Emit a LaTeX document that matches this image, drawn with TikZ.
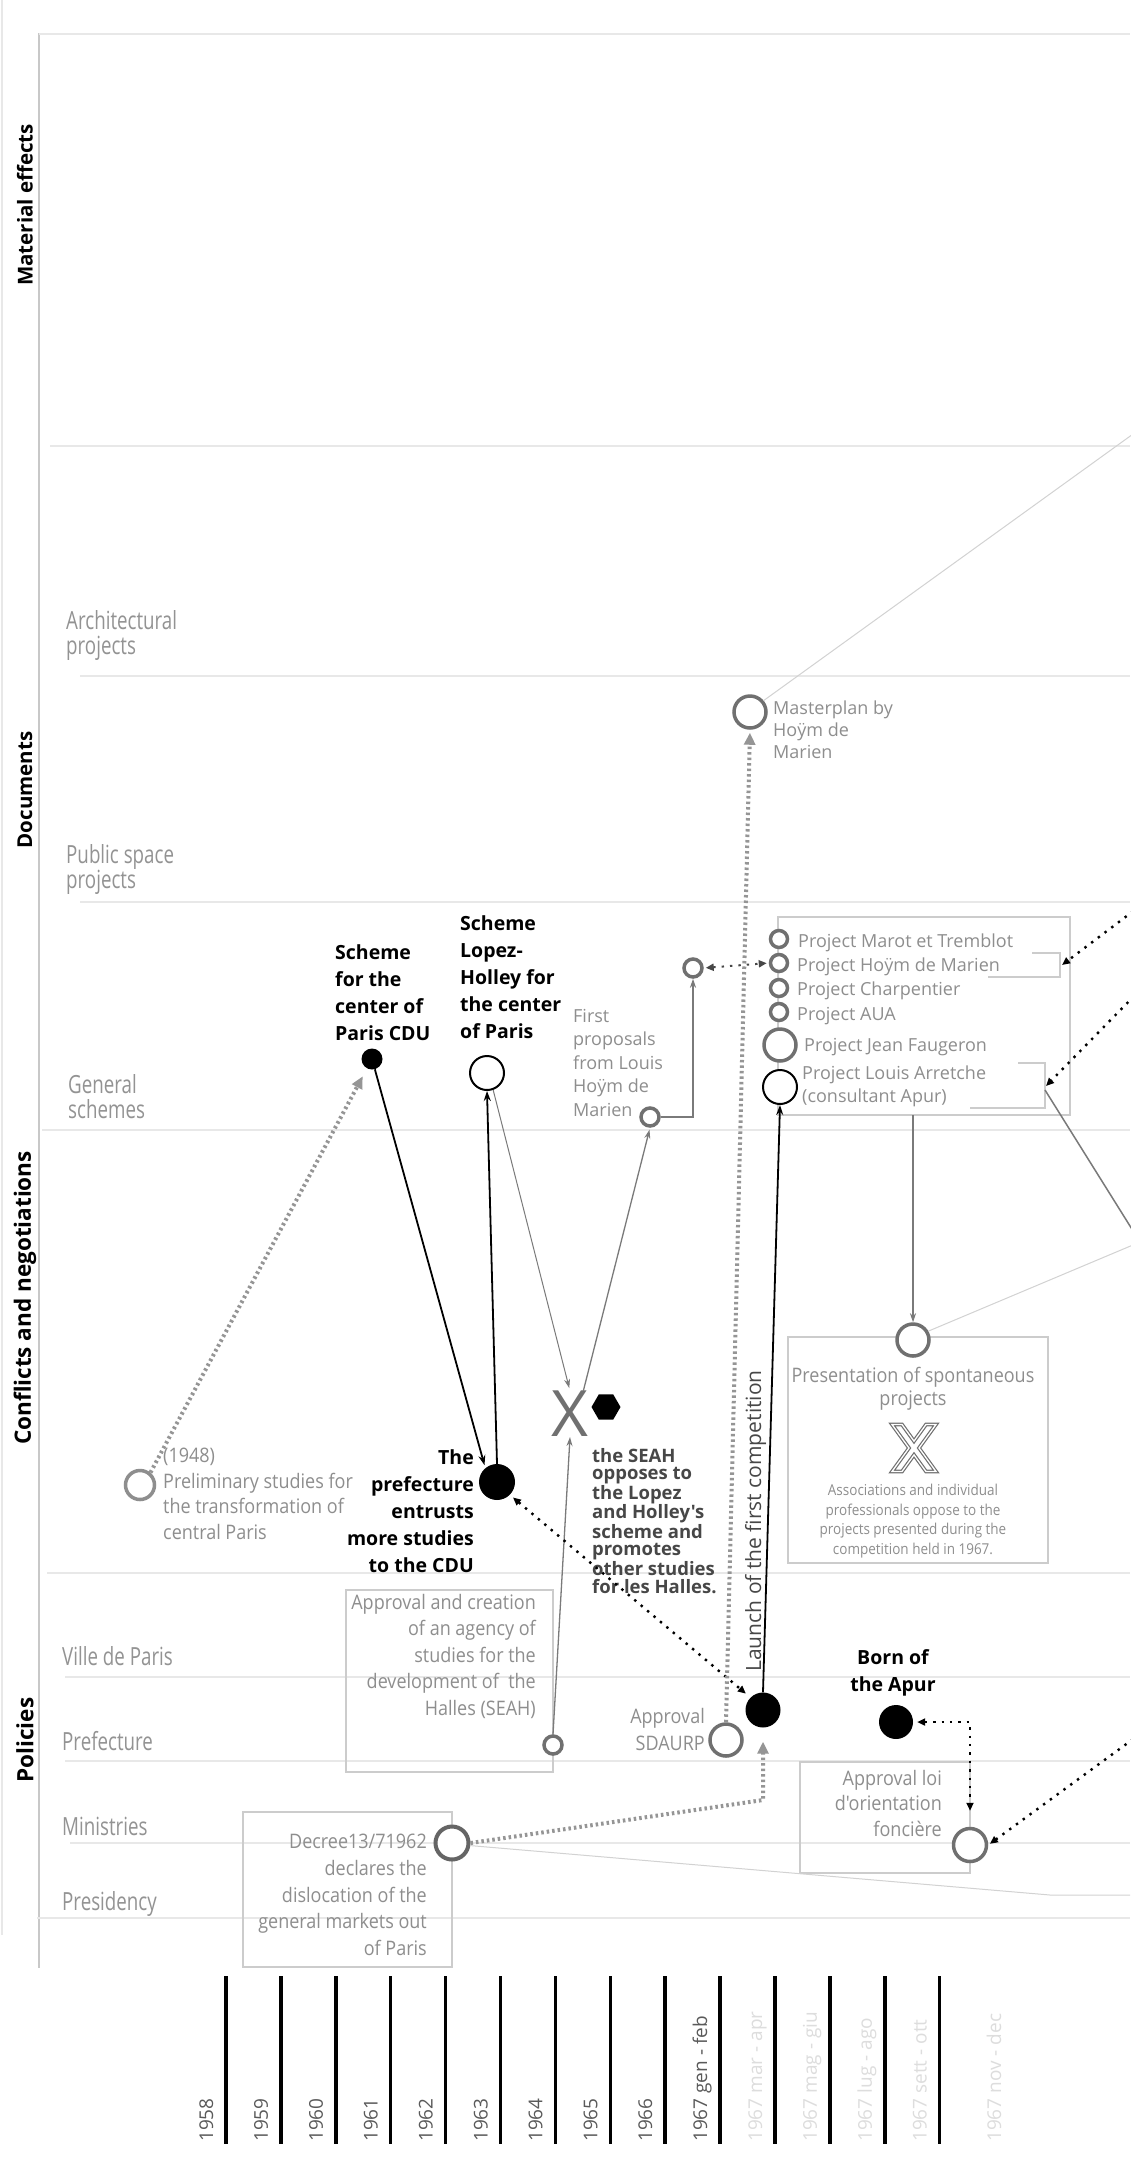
\documentclass[tikz,border=0pt]{standalone}
\usepackage{fontspec}
\setmainfont{Open Sans}
\newfontfamily\osans{Open Sans}
\newfontfamily\ocond[FakeStretch=0.9]{Open Sans}
\newfontfamily\orow[FakeStretch=0.75]{Open Sans}
\usetikzlibrary{arrows.meta,shapes.geometric}
\newcommand\myfs[2]{\fontsize{#1}{#2}\selectfont}
\definecolor{gridc}{HTML}{E8E8E8}
\definecolor{txtc}{HTML}{8E8E8E}
\definecolor{rowc}{HTML}{939393}
\definecolor{circc}{HTML}{707070}
\definecolor{boxc}{HTML}{CCCCCC}
\definecolor{thinc}{HTML}{7A7A7A}
\definecolor{dotg}{HTML}{959595}
\definecolor{darkt}{HTML}{474747}
\definecolor{yrc}{HTML}{5A5A5A}
\definecolor{yrl}{HTML}{DDDDDD}
\definecolor{lightl}{HTML}{D2D2D2}
\definecolor{axisc}{HTML}{C8C8C8}
\begin{document}
\begin{tikzpicture}[x=1pt,y=-1pt,
  gridl/.style={draw=gridc, line width=2pt},
  rowlab/.style={font=\orow\myfs{25}{25}, text=rowc, inner sep=0pt, align=left},
  cattxt/.style={font=\osans\bfseries\myfs{20.5}{22}, rotate=90, inner sep=0pt},
  boldlab/.style={font=\osans\bfseries\myfs{19.5}{27}, inner sep=0pt},
  boxtxt/.style={font=\ocond\myfs{20}{26.5}, text=txtc, inner sep=0pt},
  projtxt/.style={font=\osans\myfs{18}{23}, text=txtc, inner sep=0pt, anchor=base west},
  gcirc/.style={circle, draw=circc, line width=3.5pt, fill=white, inner sep=0pt, minimum size=#1},
  bdot/.style={circle, fill=black, inner sep=0pt, minimum size=#1},
  boxr/.style={draw=boxc, line width=1.5pt},
  blkarr/.style={draw=black, line width=1.8pt, -{Stealth[length=10pt,width=7pt]}},
  thinarr/.style={draw=thinc, line width=1.3pt, -{Stealth[length=9pt,width=6pt]}},
  gdots/.style={draw=dotg, line width=4pt, dash pattern=on 2.5pt off 3pt},
  gtip/.style={-{Triangle[length=12pt,width=11pt,fill=dotg]}},
  bdots/.style={draw=black, line width=2.4pt, dash pattern=on 2.4pt off 6pt},
  btip/.style={-{Triangle[length=8pt,width=7pt]}},
  bbtip/.style={{Triangle[length=8pt,width=7pt]}-{Triangle[length=8pt,width=7pt]}},
  lightln/.style={draw=lightl, line width=1pt},
  brk/.style={draw=boxc, line width=1.2pt},
  yrlab/.style={font=\osans\myfs{19}{22}, rotate=90, anchor=base west, inner sep=0pt}
]
\useasboundingbox (0,0) rectangle (1130,2174);
\fill[white] (0,0) rectangle (1130,2174);

% frame lines
\draw[draw=gridc, line width=2pt] (2,0) -- (2,1935);
\draw[draw=axisc, line width=2.5pt] (39,33) -- (39,1968);
\draw[gridl] (39,34) -- (1130,34);
\draw[gridl] (50,446) -- (1130,446);
\draw[gridl] (80,676) -- (1130,676);
\draw[gridl] (80,902) -- (1130,902);
\draw[gridl] (42,1130) -- (1130,1130);
\draw[gridl] (47,1573) -- (1130,1573);
\draw[gridl] (65,1677) -- (1130,1677);
\draw[gridl] (65,1761) -- (1130,1761);
\draw[gridl] (70,1843) -- (1130,1843);
\draw[gridl] (37,1918) -- (1130,1918);

% category labels
\node[cattxt] (catME) at (25,205) {Material effects};
\node[cattxt] (catDoc) at (25,790) {Documents};
\node[cattxt, font=\osans\bfseries\myfs{22.5}{24}] (catConf) at (25,1298) {Conflicts and negotiations};
\node[cattxt, font=\osans\bfseries\myfs{22.5}{24}] (catPol) at (25,1740) {Policies};

% row labels
\node[rowlab, anchor=north west] (rArch) at (66,610) {Architectural\\projects};
\node[rowlab, anchor=north west] (rPub) at (66,844) {Public space\\projects};
\node[rowlab, anchor=north west] (rGen) at (68,1074) {General\\schemes};
\node[rowlab, anchor=base west] (rVille) at (62,1665) {Ville de Paris};
\node[rowlab, anchor=base west] (rPref) at (62,1750) {Prefecture};
\node[rowlab, anchor=base west] (rMin) at (62,1835) {Ministries};
\node[rowlab, anchor=base west] (rPres) at (62,1910) {Presidency};

% boxes
\draw[boxr] (778,917) rectangle (1070,1115);
\draw[boxr] (788,1337) rectangle (1048,1563);
\draw[boxr] (346,1590) rectangle (553,1772);
\draw[boxr] (243,1812) rectangle (452,1967);
\draw[boxr] (800,1762) rectangle (970,1873);

% brackets
\draw[brk] (1032,953) -- (1060,953) -- (1060,977) -- (988,977);
\draw[brk] (1018,1063) -- (1045,1063) -- (1045,1108) -- (970,1108);

% circles and dots
\node[gcirc=29pt, draw=txtc] (c1948) at (140,1485) {};
\node[bdot=21pt] (cCDU) at (372,1059) {};
\node[circle, draw=black, line width=2pt, fill=white, inner sep=0pt, minimum size=34pt] (cLopez) at (487,1073) {};
\node[gcirc=18pt] (cC) at (650,1117) {};
\node[gcirc=18pt] (cD) at (693,968) {};
\node[gcirc=17pt] (cMarot) at (779,939) {};
\node[gcirc=17pt] (cHoym) at (779,963) {};
\node[gcirc=17pt] (cCharp) at (779,988) {};
\node[gcirc=17pt] (cAUA) at (779,1012) {};
\node[gcirc=32pt] (cFaug) at (780,1045) {};
\node[circle, draw=black, line width=2pt, fill=white, inner sep=0pt, minimum size=34pt] (cArr) at (780,1087) {};
\node[gcirc=32pt] (cMaster) at (750,712) {};
\node[gcirc=32pt] (cPres) at (913,1340) {};
\node[bdot=36pt] (cPrefDot) at (497,1482) {};
\node[gcirc=18pt] (cSEAH) at (553,1745) {};
\node[gcirc=32pt] (cSDAURP) at (726,1740) {};
\node[bdot=35pt] (cLaunch) at (763,1710) {};
\node[bdot=34pt] (cApur) at (896,1722) {};
\node[gcirc=33pt] (cLoi) at (970,1845) {};
\node[gcirc=33pt, line width=4pt, draw=circc!90!black] (cDecree) at (452,1843) {};

% X marks
\node[font=\osans\myfs{64}{66}, text=circc, inner sep=0pt] (xSEAH) at (570,1414) {X};
\node[regular polygon, regular polygon sides=6, fill=black, inner sep=0pt, minimum size=29pt] (hex) at (606,1407) {};
\draw[draw=circc, line width=1.2pt, double=white, double distance=1.3pt, fill=white] (914,1448) ++(-22,-23.5) -- ++(10,0) -- (914,1441.1) -- (926,1424.5) -- (936,1424.5) -- (919,1448) -- (936,1471.5) -- (926,1471.5) -- (914,1454.9) -- (902,1471.5) -- (892,1471.5) -- (909,1448) -- cycle;

% bold labels
\node[boldlab, align=left, anchor=north west] (lCDU) at (335,944) {Scheme\\for the\\center of\\Paris CDU};
\node[boldlab, align=left, anchor=north west] (lLopez) at (460,915) {Scheme\\Lopez-\\Holley for\\the center\\of Paris};
\node[boldlab, align=right, anchor=north east] (lPref) at (474,1449) {The\\prefecture\\entrusts\\more studies\\to the CDU};
\node[boldlab, align=left, anchor=north west, text=darkt, font=\osans\bfseries\myfs{18.5}{17.6}] (lSEAH) at (592,1448) {the SEAH\\opposes to\\the Lopez\\and Holley's\\scheme and\\promotes\\other studies\\for les Halles.};
\node[boldlab, align=center, anchor=north] (lApur) at (893,1649) {Born of\\the Apur};

% gray texts
\node[boxtxt, align=left, anchor=north west, font=\ocond\myfs{20}{25.5}] (l1948) at (163,1448) {(1948)\\Preliminary studies for\\the transformation of\\central Paris};
\node[font=\osans\myfs{18}{23.5}, text=txtc, inner sep=0pt, align=left, anchor=north west] (lFirst) at (573,1009) {First\\proposals\\from Louis\\Hoÿm de\\Marien};
\node[font=\osans\myfs{18}{22}, text=txtc, inner sep=0pt, align=left, anchor=north west] (lMaster) at (773,701) {Masterplan by\\Hoÿm de\\Marien};
\node[projtxt] (pMarot) at (798,947) {Project Marot et Tremblot};
\node[projtxt] (pHoym) at (797,971) {Project Hoÿm de Marien};
\node[projtxt] (pCharp) at (797,995) {Project Charpentier};
\node[projtxt] (pAUA) at (797,1020) {Project AUA};
\node[projtxt] (pFaug) at (804,1051) {Project Jean Faugeron};
\node[projtxt] (pArr1) at (802,1079) {Project Louis Arretche};
\node[projtxt] (pArr2) at (802,1102) {(consultant Apur)};
\node[boxtxt, align=right, anchor=north east] (lSEAHbox) at (536,1594) {Approval and creation\\of an agency of\\studies for the\\development of\ \ the\\Halles (SEAH)};
\node[boxtxt, align=right, anchor=north east, font=\ocond\myfs{20}{26.75}] (lDecree) at (427,1834) {Decree13/71962\\declares the\\dislocation of the\\general markets out\\of Paris};
\node[boxtxt, align=right, anchor=north east, font=\ocond\myfs{20}{27}] (lSDAURP) at (705,1708) {Approval\\SDAURP};
\node[boxtxt, align=right, anchor=north east, font=\ocond\myfs{20}{25.5}] (lLoi) at (942,1770) {Approval loi\\d'orientation\\foncière};
\node[boxtxt, align=center, anchor=north, font=\ocond\myfs{20}{23}] (lPres) at (913,1367) {Presentation of spontaneous\\projects};
\node[boxtxt, align=center, anchor=north, font=\ocond\myfs{15}{19.5}] (lAssoc) at (913,1484) {Associations and individual\\professionals oppose to the\\projects presented during the\\competition held in 1967.};
\node[font=\osans\myfs{21}{24}, text=darkt, inner sep=0pt, rotate=90, anchor=base] (lLaunch) at (761,1521) {Launch of the first competition};

% timeline
\foreach \t/\c [count=\i from 0] in {1958/yrc, 1959/yrc, 1960/yrc, 1961/yrc, 1962/yrc, 1963/yrc, 1964/yrc, 1965/yrc, 1966/yrc, 1967 gen - feb/yrc, 1967 mar - apr/yrl, 1967 mag - giu/yrl, 1967 lug - ago/yrl, 1967 sett - ott/yrl}{
  \draw[black, line width=3.5pt] ({226+54.9*\i},1976) -- ({226+54.9*\i},2144);
  \node[yrlab, text=\c] (yr\i) at ({213+54.9*\i},2142) {\t};
}
\node[yrlab, text=yrl] (yr14) at (1001,2142) {1967 nov - dec};

% coordinates for free ends
\coordinate (pbBot) at (913,1115);
\coordinate (brH) at (1062,965);
\coordinate (brA) at (1046,1086);
\coordinate (brAc) at (1045,1090);
\coordinate (eH) at (1140,906);
\coordinate (eA) at (1140,990);
\coordinate (eM) at (1140,1242);
\coordinate (eL) at (1140,1734);
\coordinate (eT) at (1140,429);
\coordinate (dk) at (763,1800);
\coordinate (dl1) at (1050,1895);
\coordinate (dl2) at (1130,1895);

% connectors
\draw[gdots, gtip, shorten >=9pt] (c1948.50) -- (cCDU);
\draw[blkarr, shorten >=3pt] (cCDU) -- (cPrefDot.130);
\draw[blkarr] (cPrefDot.north) -- (cLopez.south);
\draw[thinarr, line width=1pt, shorten >=3pt] (cLopez.-70) -- (xSEAH.north);
\draw[thinarr, shorten >=2pt] (xSEAH.60) -- (cC.south);
\draw[thinarr] (cSEAH.north) -- (xSEAH.south);
\draw[draw=thinc, line width=2pt, -{Stealth[length=9pt,width=6pt]}] (cC.east) -| (cD.south);
\draw[bdots, draw=darkt, bbtip, line width=2pt, shorten <=2pt, shorten >=2pt] (cD.east) -- (cHoym.west);
\draw[bdots, bbtip, shorten <=4pt, shorten >=6pt] (cPrefDot.-45) -- (cLaunch.135);
\draw[blkarr] (cLaunch.north) -- (cArr.south);
\draw[gdots, gtip, shorten >=3pt] (cSDAURP.north) -- (cMaster.south);
\draw[gdots, gtip, shorten >=14pt] (cDecree.east) -- (dk) -- (cLaunch.south);
\draw[lightln] (cDecree.-8) -- (dl1) -- (dl2);
\draw[bdots, bbtip, shorten <=4pt, shorten >=16pt] (cApur.east) -| (cLoi.north);
\draw[bdots, btip, shorten >=2pt] (eL) -- (cLoi.east);
\draw[bdots, btip] (eH) -- (brH);
\draw[bdots, btip] (eA) -- (brA);
\draw[draw=thinc, line width=1.5pt] (brAc) -- (eM);
\draw[lightln] (cPres.30) -- (eM);
\draw[thinarr] (pbBot) -- (cPres.north);
\draw[lightln] (cMaster.40) -- (eT);
\end{tikzpicture}
\end{document}
